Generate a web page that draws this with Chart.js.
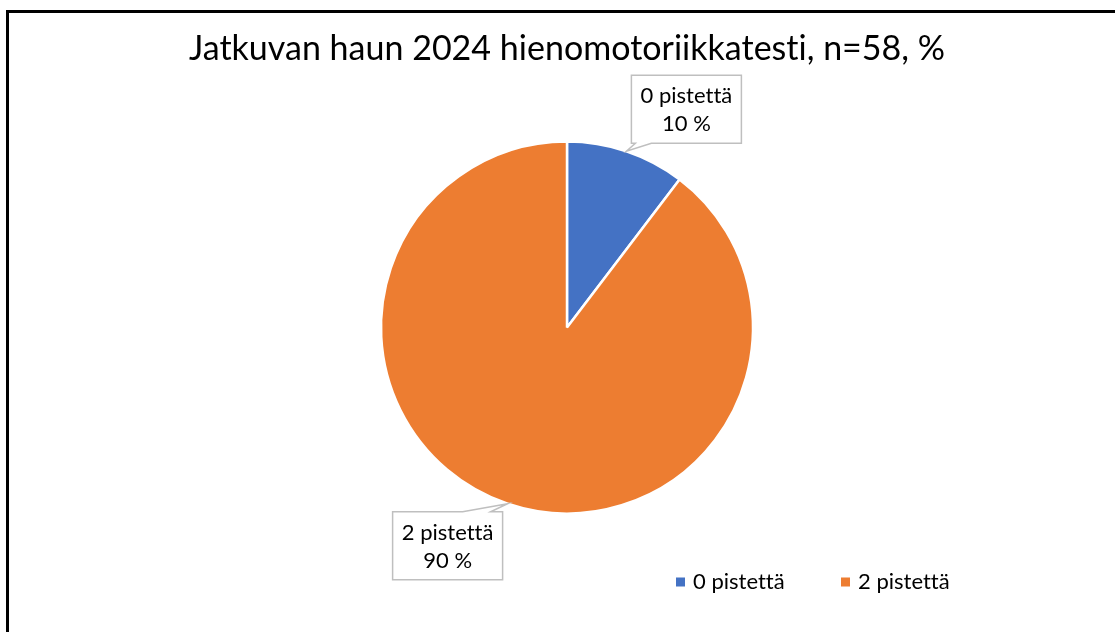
<!DOCTYPE html>
<html>
<head>
<meta charset="utf-8">
<script src="https://cdn.jsdelivr.net/npm/chart.js@4"></script>
<style>
    html, body { margin: 0; padding: 0; background: #fff; overflow: hidden; }
    #wrap { position: relative; width: 1115px; height: 632px; }
    #frame { position: absolute; left: 6px; top: 10px; width: 1200px; height: 700px; border: 3px solid #000; box-sizing: border-box; }
    canvas { position: absolute; left: 0; top: 0; }
</style>
</head>
<body>
<div id="wrap">
    <div id="frame"></div>
    <canvas id="pie-chart" width="1115" height="632"></canvas>
</div>
<script>
const categories = ['0 pistettä', '2 pistettä'];
const counts = [6, 52];
const sliceColors = ['#4472C4', '#ED7D31'];
const chartTitle = 'Jatkuvan haun 2024 hienomotoriikkatesti, n=58, %';

const FONT = 'Lato, "Open Sans", sans-serif';

// callout boxes, offset of box centre from the point on the slice edge
const calloutOffsets = [{ x: 60, y: -42 }, { x: -60, y: 42 }];

const calloutPlugin = {
    id: 'callouts',
    beforeDraw(chart) {
        // tiny spacing keeps Lato from drawing the "ti" ligature
        chart.ctx.letterSpacing = '0.01px';
    },
    afterDatasetsDraw(chart) {
        const ctx = chart.ctx;
        const meta = chart.getDatasetMeta(0);
        const total = counts.reduce((a, b) => a + b, 0);
        meta.data.forEach((arc, i) => {
            const p = arc.getProps(['x', 'y', 'startAngle', 'endAngle', 'outerRadius'], true);
            const mid = (p.startAngle + p.endAngle) / 2;
            const tipX = p.x + Math.cos(mid) * p.outerRadius;
            const tipY = p.y + Math.sin(mid) * p.outerRadius;
            const cx = tipX + calloutOffsets[i].x;
            const cy = tipY + calloutOffsets[i].y;
            const w = 110, h = 68;
            const left = cx - w / 2, top = cy - h / 2, right = cx + w / 2, bottom = cy + h / 2;

            ctx.save();
            ctx.beginPath();
            ctx.moveTo(left, top);
            if (tipY < top) {
                ctx.lineTo(right - 40, top);
                ctx.lineTo(tipX, tipY);
                ctx.lineTo(right - 12, top);
            }
            ctx.lineTo(right, top);
            ctx.lineTo(right, bottom);
            if (tipY > bottom) {
                ctx.lineTo(left + 20, bottom);
                ctx.lineTo(tipX, tipY);
                ctx.lineTo(left + 4, bottom);
            }
            ctx.lineTo(left, bottom);
            ctx.closePath();
            ctx.fillStyle = '#fff';
            ctx.fill();
            ctx.strokeStyle = '#BFBFBF';
            ctx.lineWidth = 1.5;
            ctx.stroke();

            ctx.fillStyle = '#000';
            ctx.font = '22px ' + FONT;
            ctx.textAlign = 'center';
            ctx.textBaseline = 'middle';
            ctx.fillText(categories[i], cx, cy - 13);
            ctx.fillText(Math.round(counts[i] / total * 100) + ' %', cx, cy + 15);
            ctx.restore();
        });
    },
    afterDraw(chart) {
        // legend at the bottom right
        const ctx = chart.ctx;
        const items = [{ x: 676 }, { x: 841 }];
        const y = 582;
        ctx.save();
        ctx.font = '22px ' + FONT;
        ctx.textBaseline = 'middle';
        ctx.textAlign = 'left';
        categories.forEach((c, i) => {
            ctx.fillStyle = sliceColors[i];
            ctx.fillRect(items[i].x, y - 4.5, 9, 9);
            ctx.fillStyle = '#000';
            ctx.fillText(c, items[i].x + 17, y);
        });
        ctx.restore();
    }
};

new Chart(document.getElementById('pie-chart').getContext('2d'), {
    type: 'pie',
    data: {
        labels: categories,
        datasets: [{
            data: counts,
            backgroundColor: sliceColors,
            borderColor: '#ffffff',
            borderWidth: 2.5
        }]
    },
    options: {
        responsive: false,
        devicePixelRatio: 1,
        animation: false,
        radius: 186,
        layout: { padding: { left: 19, right: 0, top: 0, bottom: 119 } },
        plugins: {
            legend: { display: false },
            tooltip: { enabled: false },
            title: {
                display: true,
                text: chartTitle,
                color: '#000',
                font: { family: FONT, size: 34, weight: 'normal', lineHeight: 1.2 },
                padding: { top: 28.4, bottom: 72.8 }
            }
        }
    },
    plugins: [calloutPlugin]
});
</script>
</body>
</html>
